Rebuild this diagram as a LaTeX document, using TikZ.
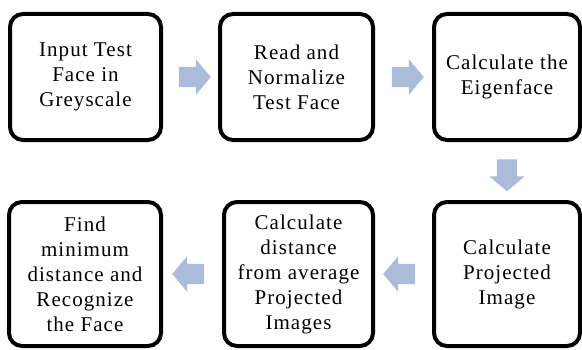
\documentclass[tikz,border=0pt]{standalone}
\usepackage{fontspec}
\setmainfont{Liberation Serif}[LetterSpace=5]
\usetikzlibrary{calc,shapes.arrows}

\definecolor{arrowblue}{RGB}{170,188,218}

\begin{document}
\begin{tikzpicture}[x=1pt, y=1pt,
        box/.style={draw, line width=4pt, rounded corners=13pt, align=center,
            font=\fontsize{21}{25}\selectfont, inner sep=2pt},
        blockarrow/.style={single arrow, fill=arrowblue, draw=none, inner xsep=0pt,
            inner ysep=10pt, single arrow head extend=7.5pt, single arrow tip angle=100,
            minimum height=32pt}]
    \useasboundingbox (0,0) rectangle (582,349);
    % top row, left to right
    \node[box, minimum width=151, minimum height=126] (input) at (85.5,272) {Input Test\\Face in\\Greyscale};
    \node[box, minimum width=153, minimum height=126] (read)  at (296.5,272) {Read and\\Normalize\\Test Face};
    \node[box, minimum width=146, minimum height=126] (eigen) at (507,272) {Calculate the\\Eigenface};
    % bottom row, right to left
    \node[box, minimum width=146, minimum height=144] (proj) at (507,75) {Calculate\\Projected\\Image};
    \node[box, minimum width=149, minimum height=144] (dist) at (298.5,75) {Calculate\\distance\\from average\\Projected\\Images};
    \node[box, minimum width=152, minimum height=144] (find) at (85,75) {Find\\minimum\\distance and\\Recognize\\the Face};
    % block arrows between the steps
    \foreach \a/\b/\u/\v/\rot in {input/read/east/west/0, read/eigen/east/west/0,
            eigen/proj/south/north/-90, proj/dist/west/east/180, dist/find/west/east/180}
        \node[blockarrow, rotate=\rot] (arr-\a) at ($(\a.\u)!0.5!(\b.\v)$) {};
\end{tikzpicture}
\end{document}
